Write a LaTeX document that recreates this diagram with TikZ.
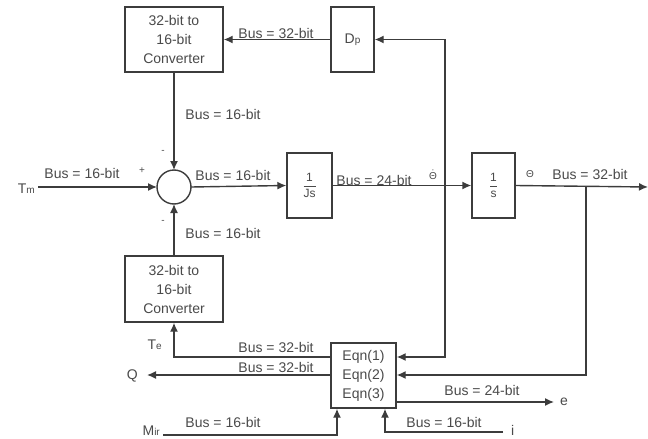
\documentclass[tikz,border=0pt]{standalone}
\usepackage{fontspec}
\setmainfont{Liberation Sans}
\usetikzlibrary{arrows.meta}
\definecolor{wire}{HTML}{3C3C3C}
\definecolor{ink}{HTML}{4A4A4A}
\tikzset{
    blk/.style={draw=wire, line width=1.4pt, fill=white, inner sep=0pt, align=center, text=ink},
    bus/.style={text=ink, font=\fontsize{14}{16}\selectfont, inner sep=0pt},
    wr/.style={draw=wire, line width=1.4pt, -{Latex[length=9pt,width=8pt]}},
}
\newcommand{\sml}[1]{{\fontsize{10}{11}\selectfont #1}}
\newcommand{\frc}[2]{{\fontsize{12}{13}\selectfont$\displaystyle\frac{\textrm{#1}}{\textrm{#2}}$}}
\begin{document}
\begin{tikzpicture}[x=1pt, y=-1pt, font=\fontsize{14}{19}\selectfont]
    \useasboundingbox (0,0) rectangle (648,439);

    % blocks
    \node[blk, minimum width=98pt, minimum height=65pt] (convtop) at (174,39.5) {32-bit to\\16-bit\\Converter};
    \node[blk, minimum width=43pt, minimum height=65pt] (dp) at (352.5,39.5) {D\sml{p}};
    \node[blk, minimum width=98pt, minimum height=66pt] (convbot) at (174,289) {32-bit to\\16-bit\\Converter};
    \node[blk, minimum width=45pt, minimum height=65pt] (js) at (309.5,185.5) {\frc{1}{Js}};
    \node[blk, minimum width=43pt, minimum height=65pt] (integ) at (493.5,185.5) {\frc{1}{s}};
    \node[blk, minimum width=65pt, minimum height=65pt] (eqn) at (363.5,375.5) {Eqn(1)\\Eqn(2)\\Eqn(3)};
    \draw[draw=wire, line width=1.4pt] (174,187) circle (17);
    \coordinate (sum) at (174,187);

    % inputs / outputs
    \node[bus, anchor=east] (tm) at (35,189) {T\sml{m}};
    \node[bus, anchor=east] (te) at (162,345) {T\sml{e}};
    \node[bus, anchor=east] (q) at (138,376) {Q};
    \node[bus, anchor=east] (mir) at (160,431) {M\sml{ir}};
    \node[bus, anchor=west] (e) at (560,402) {e};
    \node[bus, anchor=west] (i) at (511,430) {i};
    \coordinate (thout) at (648,187);
    \coordinate (thdot) at (445,187);
    \coordinate (thtap) at (586,187);

    % connectors
    \draw[wr] (tm.east) ++(3,-2) -- (157,187);
    \draw[wr] (convtop.south) -- (174,170);
    \draw[wr] (convbot.north) -- (174,204);
    \draw[wr] (191,187) -- (js.west);
    \draw[wr] (js.east) -- (integ.west);
    \draw[wr] (integ.east) -- (thout);
    \draw[wr] (dp.west) -- (convtop.east);
    \draw[wr] (thdot) |- (dp.east);
    \draw[wr] (thdot) |- (eqn.east |- 0,357);
    \draw[wr] (thtap) |- (eqn.east |- 0,375);
    \draw[wr] (eqn.west |- 0,357) -| (convbot.south);
    \draw[wr] (eqn.west |- 0,375) -- (147,375);
    \draw[wr] (eqn.east |- 0,402) -- (554,402);
    \draw[wr] (163,435) -| (eqn.south -| 337,0);
    \draw[wr] (503,432) -| (eqn.south -| 385,0);

    % labels
    \node[bus] (l1) at (276,33) {Bus = 32-bit};
    \node[bus] (l2) at (223,114) {Bus = 16-bit};
    \node[bus] (l3) at (82,173) {Bus = 16-bit};
    \node[bus] (l4) at (233,175) {Bus = 16-bit};
    \node[bus] (l5) at (374,180) {Bus = 24-bit};
    \node[bus] (l6) at (590,174) {Bus = 32-bit};
    \node[bus] (l7) at (223,233) {Bus = 16-bit};
    \node[bus] (l8) at (276,347) {Bus = 32-bit};
    \node[bus] (l9) at (276,367) {Bus = 32-bit};
    \node[bus] (l10) at (482,390) {Bus = 24-bit};
    \node[bus] (l11) at (223,422) {Bus = 16-bit};
    \node[bus] (l12) at (444,422) {Bus = 16-bit};
    \node[bus] (plus) at (142,171) {\sml{+}};
    \node[bus] (minus1) at (163,152) {\sml{-}};
    \node[bus] (minus2) at (163,222) {\sml{-}};
    \node[bus] (thd) at (433,175) {\sml{$\dot{\textrm{Θ}}$}};
    \node[bus] (th) at (530,174) {\sml{Θ}};
\end{tikzpicture}
\end{document}
